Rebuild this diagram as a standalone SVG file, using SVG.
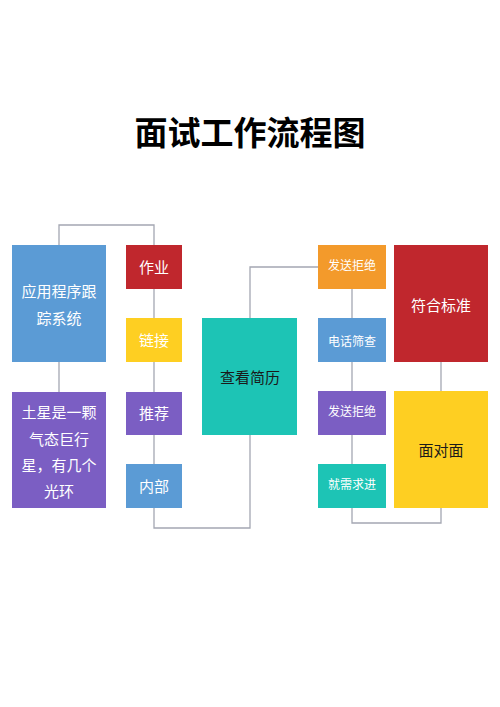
<svg xmlns="http://www.w3.org/2000/svg" width="500" height="707" viewBox="0 0 500 707">
<style>
text{font-family:"Noto Sans CJK SC","Noto Sans",sans-serif;text-anchor:middle;}
.t{fill:#ffffff;font-size:15px;}
.s{fill:#ffffff;font-size:12px;}
.d{fill:#1a1a1a;font-size:15px;}
.c{fill:none;stroke:#a4a7b2;stroke-width:1.3;}
</style>
<rect width="500" height="707" fill="#ffffff"/>
<text x="250" y="145" style="font-size:33px;font-weight:bold;fill:#000">面试工作流程图</text>
<g id="connectors">
<polyline class="c" points="59,245 59,225 154,225 154,245"/>
<line class="c" x1="59" y1="362" x2="59" y2="392"/>
<line class="c" x1="154" y1="289" x2="154" y2="318"/>
<line class="c" x1="154" y1="362" x2="154" y2="392"/>
<line class="c" x1="154" y1="435" x2="154" y2="464"/>
<polyline class="c" points="154,508 154,528 250,528 250,435"/>
<polyline class="c" points="250,318 250,267 318,267"/>
<line class="c" x1="352" y1="289" x2="352" y2="318"/>
<line class="c" x1="352" y1="362" x2="352" y2="391"/>
<line class="c" x1="352" y1="435" x2="352" y2="464"/>
<polyline class="c" points="352,508 352,523 441,523 441,508"/>
<line class="c" x1="441" y1="362" x2="441" y2="391"/>
</g>
<g id="node-app">
<rect x="12" y="245" width="94" height="117" fill="#5b9bd5"/>
<text class="t" x="59" y="297.4">应用程序跟</text>
<text class="t" x="59" y="324">踪系统</text>
</g>
<g id="node-saturn">
<rect x="12" y="392" width="94" height="116" fill="#7b5ec3"/>
<text class="t" x="59" y="418.4">土星是一颗</text>
<text class="t" x="59" y="445">气态巨行</text>
<text class="t" x="59" y="471">星，有几个</text>
<text class="t" x="59" y="496.5">光环</text>
</g>
<g id="node-zuoye">
<rect x="126" y="245" width="56" height="44" fill="#c0272d"/>
<text class="t" x="154" y="272.7">作业</text>
</g>
<g id="node-lianjie">
<rect x="126" y="318" width="56" height="44" fill="#fecf22"/>
<text class="t" x="154" y="346">链接</text>
</g>
<g id="node-tuijian">
<rect x="126" y="392" width="56" height="43" fill="#7b5ec3"/>
<text class="t" x="154" y="419">推荐</text>
</g>
<g id="node-neibu">
<rect x="126" y="464" width="56" height="44" fill="#5b9bd5"/>
<text class="t" x="154" y="491.7">内部</text>
</g>
<g id="node-resume">
<rect x="202" y="318" width="95" height="117" fill="#1dc4b5"/>
<text class="d" x="250" y="383.4">查看简历</text>
</g>
<g id="node-reject1">
<rect x="318" y="245" width="68" height="44" fill="#f39a2b"/>
<text class="s" x="352" y="269.9">发送拒绝</text>
</g>
<g id="node-phone">
<rect x="318" y="318" width="68" height="44" fill="#5b9bd5"/>
<text class="s" x="352" y="345.6">电话筛查</text>
</g>
<g id="node-reject2">
<rect x="318" y="391" width="68" height="44" fill="#7b5ec3"/>
<text class="s" x="352" y="416.3">发送拒绝</text>
</g>
<g id="node-need">
<rect x="318" y="464" width="68" height="44" fill="#1dc4b5"/>
<text class="s" x="352" y="489">就需求进</text>
</g>
<g id="node-meet">
<rect x="394" y="245" width="94" height="117" fill="#c0272d"/>
<text class="t" x="441" y="310.7">符合标准</text>
</g>
<g id="node-face">
<rect x="394" y="391" width="94" height="117" fill="#fecf22"/>
<text class="d" x="441" y="456.4">面对面</text>
</g>
</svg>
